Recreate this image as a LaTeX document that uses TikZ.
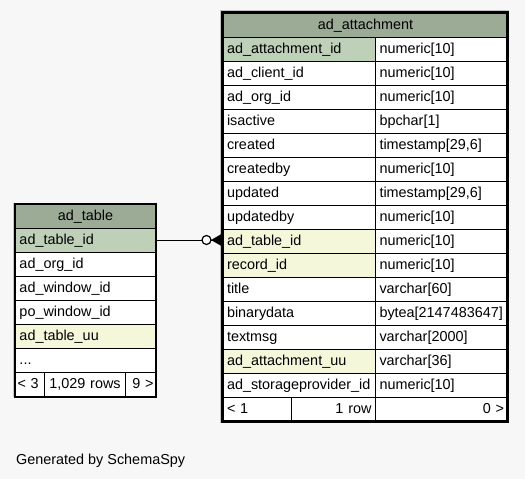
\documentclass[tikz,border=0pt]{standalone}
\usepackage{fontspec}
\setmainfont{Liberation Sans}
\definecolor{bgc}{HTML}{F7F7F7}
\definecolor{headc}{HTML}{9BAB96}
\definecolor{pkc}{HTML}{BED1B8}
\definecolor{idxc}{HTML}{F4F7DA}
\newcommand\tabfont{\fontsize{14.4pt}{16pt}\selectfont}
\tikzset{
  cellbox/.style={draw=black, line width=1pt, minimum height=24pt, inner xsep=4pt, inner ysep=0pt,
    anchor=north west, font=\tabfont, text height=10.5pt, text depth=2.5pt, fill=white, align=left},
  hdcell/.style={cellbox, fill=headc, align=center},
  pkcell/.style={cellbox, fill=pkc},
  ixcell/.style={cellbox, fill=idxc},
  rcell/.style={cellbox, align=right},
  ccell/.style={cellbox, align=center},
}
\begin{document}
\begin{tikzpicture}[x=1pt,y=-1pt]
\useasboundingbox (0,0) rectangle (525,479);
\fill[bgc] (0,0) rectangle (525,479);

% ---------------- ad_table ----------------
\draw[gray!45, line width=1pt] (13.5,397) -- (13.5,203.5) -- (155,203.5);
\node[hdcell, text width=132pt] (t-hd) at (15,204) {ad\_table};
\node[pkcell, text width=132pt] (t-id) at (15,228) {ad\_table\_id};
\node[cellbox, text width=132pt] (t-org) at (15,252) {ad\_org\_id};
\node[cellbox, text width=132pt] (t-win) at (15,276) {ad\_window\_id};
\node[cellbox, text width=132pt] (t-po) at (15,300) {po\_window\_id};
\node[ixcell, text width=132pt] (t-uu) at (15,324) {ad\_table\_uu};
\node[cellbox, text width=132pt] (t-more) at (15,348) {...};
\node[cellbox, inner xsep=2pt, text width=25pt] (t-f1) at (15,372) {\mbox{< 3}};
\node[ccell, text width=73pt] (t-f2) at (44,372) {1,029 rows};
\node[rcell, inner xsep=2pt, text width=26pt] (t-f3) at (125,372) {\mbox{9 >}};
\draw[line width=1.5pt] (t-hd.north west) rectangle (t-f3.south east);

% ---------------- ad_attachment ----------------
\draw[gray!45, line width=1pt] (220.5,423) -- (220.5,10.5) -- (509,10.5);
\node[hdcell, text width=277pt] (a-hd) at (222.5,13) {ad\_attachment};
\node[pkcell, text width=144.5pt] (a-id) at (222.5,37) {ad\_attachment\_id};
\node[cellbox, text width=124.5pt] (a-idt) at (375,37) {numeric[10]};
\node[cellbox, text width=144.5pt] (a-cl) at (222.5,61) {ad\_client\_id};
\node[cellbox, text width=124.5pt] (a-clt) at (375,61) {numeric[10]};
\node[cellbox, text width=144.5pt] (a-org) at (222.5,85) {ad\_org\_id};
\node[cellbox, text width=124.5pt] (a-orgt) at (375,85) {numeric[10]};
\node[cellbox, text width=144.5pt] (a-act) at (222.5,109) {isactive};
\node[cellbox, text width=124.5pt] (a-actt) at (375,109) {bpchar[1]};
\node[cellbox, text width=144.5pt] (a-cr) at (222.5,133) {created};
\node[cellbox, text width=124.5pt] (a-crt) at (375,133) {timestamp[29,6]};
\node[cellbox, text width=144.5pt] (a-crb) at (222.5,157) {createdby};
\node[cellbox, text width=124.5pt] (a-crbt) at (375,157) {numeric[10]};
\node[cellbox, text width=144.5pt] (a-up) at (222.5,181) {updated};
\node[cellbox, text width=124.5pt] (a-upt) at (375,181) {timestamp[29,6]};
\node[cellbox, text width=144.5pt] (a-upb) at (222.5,205) {updatedby};
\node[cellbox, text width=124.5pt] (a-upbt) at (375,205) {numeric[10]};
\node[ixcell, text width=144.5pt] (a-tid) at (222.5,229) {ad\_table\_id};
\node[cellbox, text width=124.5pt] (a-tidt) at (375,229) {numeric[10]};
\node[ixcell, text width=144.5pt] (a-rec) at (222.5,253) {record\_id};
\node[cellbox, text width=124.5pt] (a-rect) at (375,253) {numeric[10]};
\node[cellbox, text width=144.5pt] (a-ti) at (222.5,277) {title};
\node[cellbox, text width=124.5pt] (a-tit) at (375,277) {varchar[60]};
\node[cellbox, text width=144.5pt] (a-bin) at (222.5,301) {binarydata};
\node[cellbox, text width=124.5pt] (a-bint) at (375,301) {bytea[2147483647]};
\node[cellbox, text width=144.5pt] (a-msg) at (222.5,325) {textmsg};
\node[cellbox, text width=124.5pt] (a-msgt) at (375,325) {varchar[2000]};
\node[ixcell, text width=144.5pt] (a-uu) at (222.5,349) {ad\_attachment\_uu};
\node[cellbox, text width=124.5pt] (a-uut) at (375,349) {varchar[36]};
\node[cellbox, text width=144.5pt] (a-sp) at (222.5,373) {ad\_storageprovider\_id};
\node[cellbox, text width=124.5pt] (a-spt) at (375,373) {numeric[10]};
\node[cellbox, text width=60.5pt] (a-f1) at (222.5,397) {< 1};
\node[rcell, text width=76pt] (a-f2) at (291,397) {1 row};
\node[rcell, text width=124.5pt] (a-f3) at (375,397) {0 >};
\draw[line width=3pt] (222.5,12.5) rectangle (507.5,421.5);

% ---------------- connector ----------------
\draw[line width=1pt] (t-id.east) -- (t-id.east -| a-tid.west);
\node[circle, draw=black, line width=1.2pt, fill=white, minimum size=9pt, inner sep=0pt] (opt) at (206.5,240) {};
\fill[black] (211,240) -- (221.5,234) -- (221.5,246) -- cycle;

% ---------------- footer ----------------
\node[font=\tabfont, anchor=base west, inner sep=0pt] (gen) at (16,464.5) {Generated by SchemaSpy};
\end{tikzpicture}
\end{document}
